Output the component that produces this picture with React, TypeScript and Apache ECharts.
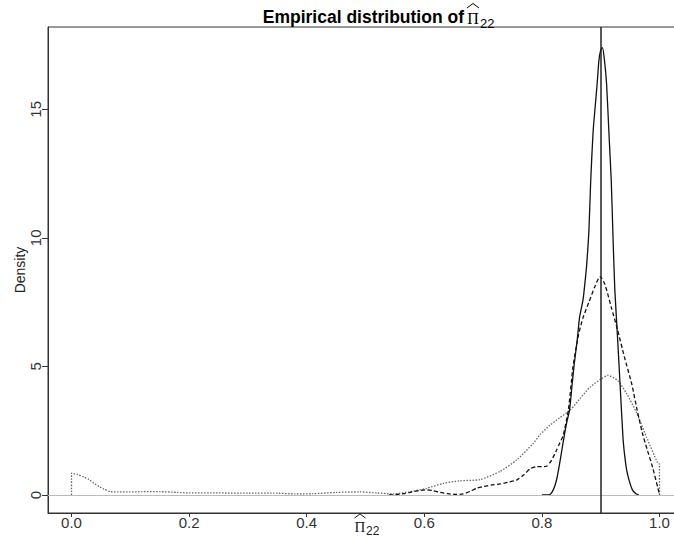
import React, { useEffect, useRef } from "react";
import * as echarts from "echarts";

// ---- data ----
const xTicks = [0, 0.2, 0.4, 0.6, 0.8, 1.0];
const yTicks = [0, 5, 10, 15];
const trueValue = 0.9;

const solidX = [0.8, 0.812, 0.817, 0.822, 0.826, 0.83, 0.834, 0.838, 0.842, 0.847, 0.851, 0.855, 0.86, 0.864, 0.87, 0.873, 0.876, 0.88, 0.883, 0.887, 0.891, 0.894, 0.897, 0.9, 0.903, 0.906, 0.91, 0.914, 0.918, 0.921, 0.924, 0.928, 0.933, 0.938, 0.941, 0.944, 0.948, 0.954, 0.96, 0.965];
const solidY = [0, 0, 0.1, 0.35, 0.7, 1.2, 1.75, 2.3, 2.8, 3.3, 4.2, 5.1, 6.0, 6.9, 7.6, 8.2, 8.9, 10.3, 12.2, 14.1, 15.2, 16.0, 16.9, 17.3, 17.4, 17.0, 16.0, 14.1, 12.2, 10.0, 8.0, 6.4, 4.3, 2.2, 1.5, 1.0, 0.6, 0.2, 0.05, 0];

const dashedX = [0.54, 0.55, 0.565, 0.576, 0.59, 0.604, 0.615, 0.627, 0.64, 0.655, 0.666, 0.678, 0.689, 0.7, 0.715, 0.729, 0.743, 0.757, 0.77, 0.78, 0.79, 0.8, 0.808, 0.815, 0.822, 0.825, 0.83, 0.836, 0.845, 0.853, 0.862, 0.87, 0.88, 0.89, 0.899, 0.907, 0.918, 0.929, 0.94, 0.953, 0.962, 0.971, 0.98, 0.988, 0.997, 1.0];
const dashedY = [0, 0.01, 0.05, 0.1, 0.17, 0.2, 0.17, 0.1, 0.05, 0.02, 0.04, 0.14, 0.26, 0.33, 0.39, 0.43, 0.5, 0.58, 0.8, 1.02, 1.1, 1.1, 1.12, 1.3, 1.6, 1.75, 2.0, 2.3, 3.3, 5.0, 6.2, 6.9, 7.5, 8.1, 8.5, 8.2, 7.3, 6.4, 5.4, 4.3, 3.3, 2.4, 1.7, 1.1, 0.3, 0];

const dottedX = [0, 0, 0.01, 0.021, 0.03, 0.038, 0.047, 0.055, 0.066, 0.08, 0.1, 0.12, 0.15, 0.18, 0.2, 0.25, 0.3, 0.35, 0.38, 0.41, 0.45, 0.49, 0.52, 0.547, 0.575, 0.604, 0.632, 0.66, 0.695, 0.729, 0.757, 0.785, 0.797, 0.813, 0.83, 0.848, 0.865, 0.882, 0.9, 0.912, 0.929, 0.944, 0.961, 0.978, 0.997, 1.0, 1.0];
const dottedY = [0, 0.85, 0.8, 0.7, 0.6, 0.46, 0.33, 0.23, 0.13, 0.12, 0.12, 0.13, 0.13, 0.1, 0.08, 0.08, 0.07, 0.07, 0.04, 0.05, 0.1, 0.12, 0.08, 0.04, 0.12, 0.26, 0.45, 0.55, 0.6, 0.92, 1.36, 2.0, 2.35, 2.7, 3.0, 3.3, 3.75, 4.2, 4.5, 4.65, 4.45, 3.95, 3.2, 2.25, 1.24, 1.2, 0];

const zip = (xs: number[], ys: number[]) => xs.map((x, i) => [x, ys[i]]);

export default function App() {
  const ref = useRef<HTMLDivElement>(null);
  useEffect(() => {
    if (!ref.current) return;
    const chart = echarts.init(ref.current, undefined, { renderer: "svg" });
    const sans = "'Liberation Sans', Arial, sans-serif";
    const serif = "'Liberation Serif', 'Times New Roman', serif";
    chart.setOption({
      animation: false,
      backgroundColor: "#ffffff",
      grid: {
        left: 48,
        top: 27,
        right: -9,
        bottom: 24,
        show: true,
        borderColor: "#333",
        borderWidth: 1,
        outerBoundsMode: "none",
        containLabel: false,
      },
      xAxis: {
        type: "value",
        min: -0.04,
        max: 1.04,
        axisLine: { show: true, onZero: false, lineStyle: { color: "#333", width: 1 } },
        axisTick: { show: true, customValues: xTicks, length: 4, lineStyle: { color: "#333" } },
        axisLabel: {
          customValues: xTicks,
          formatter: (v: number) => v.toFixed(1),
          fontFamily: sans,
          fontSize: 15,
          color: "#333",
          margin: 2,
        },
        splitLine: { show: false },
      },
      yAxis: {
        type: "value",
        min: -0.7,
        max: 18.2,
        axisLine: { show: true, onZero: false, lineStyle: { color: "#333", width: 1 } },
        axisTick: { show: true, customValues: yTicks, length: 6, lineStyle: { color: "#333" } },
        axisLabel: {
          customValues: yTicks,
          rotate: 90,
          fontFamily: sans,
          fontSize: 15,
          color: "#333",
          margin: 5,
        },
        splitLine: { show: false },
      },
      series: [
        {
          type: "line",
          name: "zero",
          data: [],
          markLine: {
            silent: true,
            symbol: "none",
            label: { show: false },
            animation: false,
            data: [
              { yAxis: 0, lineStyle: { color: "#bbb", width: 1, type: "solid" } },
              { xAxis: trueValue, lineStyle: { color: "#222", width: 1.5, type: "solid" } },
            ],
          },
        },
        {
          type: "line",
          name: "dotted",
          data: zip(dottedX, dottedY),
          showSymbol: false,
          symbol: "none",
          smooth: 0.2,
          lineStyle: { color: "#666", width: 1.3, type: [1.5, 1.5] },
        },
        {
          type: "line",
          name: "dashed",
          data: zip(dashedX, dashedY),
          showSymbol: false,
          symbol: "none",
          smooth: 0.2,
          lineStyle: { color: "#111", width: 1.3, type: [4, 2.5] },
        },
        {
          type: "line",
          name: "solid",
          data: zip(solidX, solidY),
          showSymbol: false,
          symbol: "none",
          smooth: 0.2,
          lineStyle: { color: "#111", width: 1.3, type: "solid" },
        },
      ],
      graphic: [
        {
          type: "text",
          x: 464,
          y: 17,
          style: {
            text: "Empirical distribution of",
            font: `bold 17.5px ${sans}`,
            fill: "#000",
            textAlign: "right",
            textVerticalAlign: "middle",
          },
        },
        {
          type: "text",
          x: 473,
          y: 18,
          style: { text: "Π", font: `16px ${serif}`, fill: "#000", textAlign: "center", textVerticalAlign: "middle" },
        },
        {
          type: "polyline",
          shape: { points: [[467, 8], [473, 3.5], [479, 8]] },
          style: { stroke: "#000", lineWidth: 1, fill: "none" },
        },
        {
          type: "text",
          x: 480,
          y: 23,
          style: { text: "22", font: `13px ${sans}`, fill: "#000", textAlign: "left", textVerticalAlign: "middle" },
        },
        {
          type: "text",
          x: 360,
          y: 527,
          style: { text: "Π", font: `15px ${serif}`, fill: "#222", textAlign: "center", textVerticalAlign: "middle" },
        },
        {
          type: "polyline",
          shape: { points: [[354.5, 518], [360, 514], [365.5, 518]] },
          style: { stroke: "#222", lineWidth: 1, fill: "none" },
        },
        {
          type: "text",
          x: 366,
          y: 531,
          style: { text: "22", font: `12px ${sans}`, fill: "#222", textAlign: "left", textVerticalAlign: "middle" },
        },
        {
          type: "text",
          x: 20,
          y: 270,
          rotation: Math.PI / 2,
          style: { text: "Density", font: `14px ${sans}`, fill: "#222", textAlign: "center", textVerticalAlign: "middle" },
        },
      ],
    });
    return () => chart.dispose();
  }, []);
  return (
    <div style={{ position: "fixed", left: 0, top: 0, width: 674, height: 537, overflow: "hidden", background: "#fff" }}>
      <div ref={ref} style={{ width: 674, height: 537 }} />
    </div>
  );
}
